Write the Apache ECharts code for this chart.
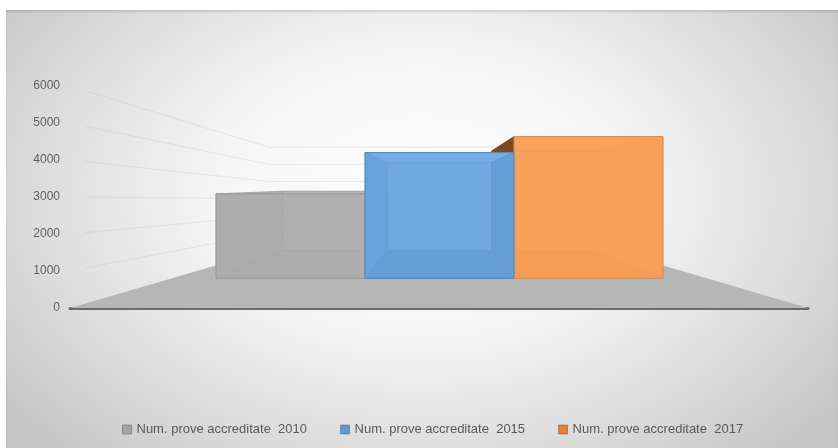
<!DOCTYPE html>
<html><head><meta charset="utf-8">
<script src="https://cdn.jsdelivr.net/npm/echarts@6/dist/echarts.min.js"></script>
<style>
html,body{margin:0;padding:0;background:#fff;width:838px;height:448px;overflow:hidden;}
#bg{position:absolute;left:6px;top:10px;width:832px;height:438px;
 background:radial-gradient(ellipse 62% 80% at 50% 42%, #ffffff 0%, #f5f5f5 40%, #dcdcdc 75%, #c6c6c6 100%);
 box-shadow:inset 0 2px 2px rgba(0,0,0,0.12);}
#c{position:absolute;left:0;top:0;width:838px;height:448px;}
</style></head>
<body><div id="bg"></div><div id="c"></div>
<script>
// ---- data ----
const categories = ['2010', '2015', '2017'];
const seriesNames = ['Num. prove accreditate  2010', 'Num. prove accreditate  2015', 'Num. prove accreditate  2017'];
const values2010 = [3020];
const values2015 = [4500];
const values2017 = [5070];
const yTicks = [0, 1000, 2000, 3000, 4000, 5000, 6000];

// ---- perspective helpers ----
const WALL_VP = [440, 200], WALL_S = 0.463;   // floor / back wall projection
const BOX_VP = [439, 185], BOX_S = 0.70;      // bar front -> bar back projection

const styles = [
  {legend:'#a5a5a5', back:'#b2b2b2', left:'#acacac', right:'#a8a8a8', top:'#b8b8b8', bottom:'#a9a9a9', outer:'#a0a0a0',
   front:'rgba(175,175,175,0.55)', edge:'#999999', inner:'rgba(150,150,150,0.45)'},
  {legend:'#5b9bd5', back:'#76ade2', left:'#68a0d7', right:'#5e94ca', top:'#80b6e7', bottom:'#6098cf', outer:'#5e94ca',
   front:'rgba(108,166,222,0.55)', edge:'#5289c2', inner:'rgba(80,130,190,0.4)'},
  {legend:'#ed7d31', back:'#f7a35f', left:'#7c4a22', right:'#f59f5a', top:'#f6a660', bottom:'#ef9149', outer:'#7c4a22',
   front:'rgba(247,160,92,0.75)', edge:'#df8a45', inner:'rgba(215,130,65,0.35)'}
];

function makeBox(cfg) {
  return function (params, api) {
    const ci = api.value(0), v = api.value(1);
    const w = api.size([1, 0])[0];
    const b = api.coord([ci, 0]), t = api.coord([ci, v]);
    const xl = b[0] - w / 2, xr = b[0] + w / 2, yb = b[1], yt = t[1];
    const pr = p => [BOX_VP[0] + BOX_S * (p[0] - BOX_VP[0]), BOX_VP[1] + BOX_S * (p[1] - BOX_VP[1])];
    const f = [[xl, yt], [xr, yt], [xr, yb], [xl, yb]];
    const k = f.map(pr);
    const poly = (pts, fill, stroke) => ({type: 'polygon', shape: {points: pts}, style: {fill: fill, stroke: stroke || cfg.inner, lineWidth: 1}});
    const kids = [
      poly(k, cfg.back),
      poly([f[3], f[2], k[2], k[3]], cfg.bottom),
      poly([f[0], f[1], k[1], k[0]], cfg.top),
      poly([f[0], k[0], k[3], f[3]], cfg.left),
      poly([f[1], k[1], k[2], f[2]], cfg.right)
    ];
    if (k[0][0] < xl) {
      // part of the top/left that sticks out to the left of the front face
      kids.push({type: 'polygon', shape: {points: [f[0], k[0], [xl, k[0][1]]]},
                 style: {fill: cfg.outer, stroke: cfg.outer, lineWidth: 0.5}});
    }
    kids.push(poly(f, cfg.front, cfg.edge));
    return {type: 'group', children: kids};
  };
}

const wallPr = p => [WALL_VP[0] + WALL_S * (p[0] - WALL_VP[0]), WALL_VP[1] + WALL_S * (p[1] - WALL_VP[1])];

const chart = echarts.init(document.getElementById('c'), null, {renderer: 'canvas'});
const valueSets = [values2010, values2015, values2017];

const boxSeries = seriesNames.map((name, i) => ({
  name: name,
  type: 'custom',
  xAxisIndex: 1, yAxisIndex: 1,
  z: [3, 5, 4][i],
  itemStyle: {color: styles[i].legend},
  renderItem: makeBox(styles[i]),
  data: valueSets[i].map(v => [i, v]),
  silent: true
}));

chart.setOption({
  animation: false,
  grid: [
    {left: 70, right: 30, top: 86, bottom: 140},
    {left: 216, right: 175, top: 110.6, bottom: 169.7}
  ],
  xAxis: [
    {gridIndex: 0, type: 'value', min: 0, max: 1,
     axisLine: {show: true, lineStyle: {color: '#6b6b6b', width: 3}},
     axisTick: {show: false}, axisLabel: {show: false}, splitLine: {show: false}},
    {gridIndex: 1, type: 'category', data: categories, show: false, boundaryGap: true}
  ],
  yAxis: [
    {gridIndex: 0, type: 'value', min: 0, max: 6000, interval: 1000,
     axisLine: {show: false}, axisTick: {show: false}, splitLine: {show: false},
     axisLabel: {color: '#606060', fontSize: 12, fontFamily: 'Liberation Sans', margin: 10,
                 formatter: v => String(v)}},
    {gridIndex: 1, type: 'value', min: 0, max: 6000, show: false, splitLine: {show: false}}
  ],
  legend: {
    bottom: 7, left: 117, icon: 'rect', itemWidth: 9, itemHeight: 9, itemGap: 33,
    itemStyle: {borderColor: 'rgba(80,80,80,0.45)', borderWidth: 1},
    textStyle: {color: '#595959', fontSize: 13, fontFamily: 'Liberation Sans'},
    data: seriesNames
  },
  series: [
    {
      name: 'floor', type: 'custom', xAxisIndex: 0, yAxisIndex: 0, z: 1, silent: true,
      data: [[0, 0]],
      renderItem: function (params, api) {
        const a = api.coord([0, 0]), b = api.coord([1, 0]);
        const pts = [a, b, wallPr(b), wallPr(a)];
        return {type: 'polygon', shape: {points: pts}, style: {fill: '#b6b6b6'}};
      }
    },
    {
      name: 'walls', type: 'custom', xAxisIndex: 0, yAxisIndex: 0, z: 1, silent: true,
      data: yTicks.filter(v => v > 0).map(v => [0, v]),
      renderItem: function (params, api) {
        const v = api.value(1);
        const p = api.coord([0, v]);
        const r = api.coord([1, v]);
        const q = wallPr(p), s = wallPr(r);
        return {type: 'polyline', shape: {points: [[p[0] + 15, p[1] + (q[1] - p[1]) * 15 / (q[0] - p[0])], q, [s[0], q[1]]]},
                style: {stroke: 'rgba(190,190,190,0.3)', lineWidth: 1, fill: null}};
      }
    }
  ].concat(boxSeries)
});
</script>
</body></html>
